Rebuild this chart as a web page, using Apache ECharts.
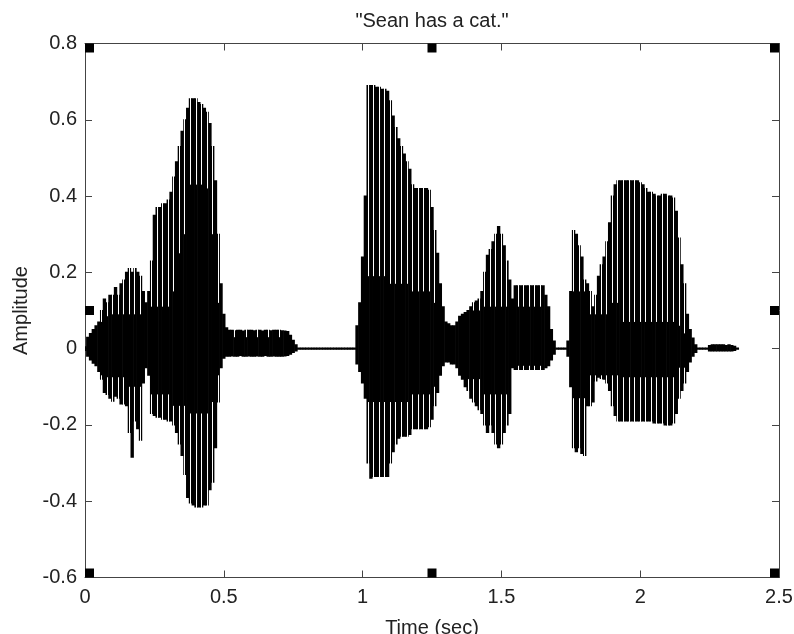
<!DOCTYPE html>
<html>
<head>
<meta charset="utf-8">
<script src="https://cdn.jsdelivr.net/npm/echarts@6/dist/echarts.min.js"></script>
<style>html,body{margin:0;padding:0;background:#fff}#c{width:794px;height:634px}</style>
</head>
<body>
<div id="c"></div>
<script>
const titleText = '"Sean has a cat."';
const xName = 'Time (sec)';
const yName = 'Amplitude';
const xMin = 0, xMax = 2.5, xStep = 0.5;
const yMin = -0.6, yMax = 0.8, yStep = 0.2;
const t0 = 0, dt = 0.01;

// outer envelope of the waveform, one value per 10 ms (0.00 .. 2.35 s)
const upperEnv = [
  0.005, 0.03, 0.04, 0.05, 0.06, 0.07, 0.10, 0.13, 0.12, 0.14,
  0.14, 0.16, 0.14, 0.17, 0.18, 0.20, 0.21, 0.20, 0.21, 0.20,
  0.19, 0.15, 0.12, 0.15, 0.23, 0.35, 0.37, 0.37, 0.38, 0.38,
  0.39, 0.41, 0.45, 0.49, 0.53, 0.57, 0.60, 0.63, 0.655, 0.655,
  0.655, 0.645, 0.64, 0.63, 0.62, 0.59, 0.53, 0.44, 0.30, 0.17,
  0.09, 0.055, 0.048, 0.048, 0.047, 0.048, 0.048, 0.046, 0.048, 0.048,
  0.048, 0.047, 0.048, 0.048, 0.046, 0.048, 0.048, 0.047, 0.048, 0.048,
  0.048, 0.047, 0.046, 0.045, 0.035, 0.022, 0.01, 0.0015, 0.0015, 0.0015,
  0.0015, 0.0015, 0.0015, 0.0015, 0.0015, 0.0015, 0.0015, 0.0015, 0.0015, 0.0015,
  0.0015, 0.0015, 0.0015, 0.0015, 0.0015, 0.0015, 0.0015, 0.0015, 0.06, 0.12,
  0.24, 0.40, 0.69, 0.69, 0.69, 0.685, 0.685, 0.68, 0.68, 0.675,
  0.65, 0.61, 0.58, 0.55, 0.53, 0.51, 0.49, 0.47, 0.43, 0.42,
  0.42, 0.42, 0.42, 0.42, 0.415, 0.37, 0.31, 0.25, 0.17, 0.11,
  0.07, 0.065, 0.06, 0.06, 0.07, 0.085, 0.09, 0.095, 0.10, 0.11,
  0.12, 0.125, 0.13, 0.15, 0.20, 0.245, 0.26, 0.28, 0.30, 0.32,
  0.30, 0.27, 0.23, 0.18, 0.13, 0.165, 0.165, 0.165, 0.165, 0.165,
  0.165, 0.165, 0.165, 0.165, 0.165, 0.165, 0.14, 0.11, 0.05, 0.02,
  0.0015, 0.0015, 0.0015, 0.0015, 0.02, 0.15, 0.31, 0.30, 0.27, 0.24,
  0.18, 0.17, 0.15, 0.11, 0.14, 0.19, 0.22, 0.24, 0.28, 0.33,
  0.40, 0.43, 0.44, 0.44, 0.44, 0.44, 0.44, 0.44, 0.44, 0.44,
  0.435, 0.43, 0.42, 0.41, 0.41, 0.405, 0.40, 0.40, 0.405, 0.405,
  0.40, 0.40, 0.395, 0.36, 0.29, 0.22, 0.17, 0.09, 0.05, 0.028,
  0.01, 0.0015, 0.0015, 0.0015, 0.0015, 0.008, 0.01, 0.01, 0.01, 0.01,
  0.01, 0.008, 0.01, 0.008, 0.006, 0.0015
];
const lowerEnv = [
  -0.005, -0.02, -0.03, -0.038, -0.045, -0.06, -0.08, -0.115, -0.12, -0.13,
  -0.138, -0.125, -0.13, -0.145, -0.145, -0.15, -0.22, -0.285, -0.19, -0.21,
  -0.24, -0.09, -0.05, -0.07, -0.17, -0.175, -0.18, -0.18, -0.185, -0.185,
  -0.19, -0.19, -0.20, -0.22, -0.25, -0.28, -0.33, -0.39, -0.405, -0.41,
  -0.415, -0.415, -0.415, -0.41, -0.41, -0.37, -0.35, -0.26, -0.14, -0.05,
  -0.025, -0.02, -0.02, -0.019, -0.02, -0.02, -0.018, -0.02, -0.02, -0.019,
  -0.02, -0.02, -0.019, -0.02, -0.02, -0.018, -0.02, -0.02, -0.019, -0.02,
  -0.02, -0.02, -0.019, -0.018, -0.015, -0.01, -0.006, -0.0015, -0.0015, -0.0015,
  -0.0015, -0.0015, -0.0015, -0.0015, -0.0015, -0.0015, -0.0015, -0.0015, -0.0015, -0.0015,
  -0.0015, -0.0015, -0.0015, -0.0015, -0.0015, -0.0015, -0.0015, -0.0015, -0.04, -0.06,
  -0.09, -0.13, -0.30, -0.34, -0.335, -0.335, -0.335, -0.335, -0.335, -0.335,
  -0.30, -0.27, -0.25, -0.235, -0.23, -0.23, -0.23, -0.225, -0.21, -0.21,
  -0.21, -0.21, -0.21, -0.21, -0.205, -0.185, -0.15, -0.115, -0.07, -0.045,
  -0.035, -0.035, -0.04, -0.04, -0.05, -0.07, -0.08, -0.10, -0.11, -0.13,
  -0.14, -0.15, -0.16, -0.17, -0.20, -0.22, -0.20, -0.22, -0.25, -0.26,
  -0.25, -0.22, -0.20, -0.17, -0.05, -0.055, -0.055, -0.055, -0.055, -0.055,
  -0.055, -0.055, -0.055, -0.055, -0.055, -0.055, -0.05, -0.045, -0.03, -0.015,
  -0.0015, -0.0015, -0.0015, -0.0015, -0.02, -0.10, -0.26, -0.27, -0.26, -0.275,
  -0.28, -0.15, -0.15, -0.14, -0.085, -0.075, -0.078, -0.08, -0.09, -0.11,
  -0.15, -0.175, -0.19, -0.19, -0.19, -0.19, -0.19, -0.19, -0.19, -0.19,
  -0.19, -0.19, -0.19, -0.19, -0.19, -0.195, -0.195, -0.195, -0.195, -0.20,
  -0.20, -0.20, -0.195, -0.17, -0.13, -0.11, -0.09, -0.06, -0.035, -0.02,
  -0.01, -0.0015, -0.0015, -0.0015, -0.0015, -0.006, -0.006, -0.006, -0.006, -0.006,
  -0.006, -0.006, -0.006, -0.006, -0.005, -0.0015
];
// dense inner core (where the white gaps between pitch pulses stop); null = no gap
const coreUpper = [
  null, null, null, null, null, null, 0.07, 0.08, 0.085, 0.09,
  0.09, 0.09, 0.09, 0.09, 0.09, 0.09, 0.09, 0.09, 0.09, 0.09,
  0.09, null, null, null, 0.11, 0.11, 0.11, 0.11, 0.11, 0.11,
  0.11, 0.12, 0.15, 0.20, 0.25, 0.28, 0.30, 0.42, 0.43, 0.43,
  0.43, 0.43, 0.43, 0.42, 0.42, 0.38, 0.30, 0.20, 0.12, null,
  null, null, null, null, 0.03, null, null, null, 0.03, null,
  null, null, 0.03, null, null, null, 0.03, null, null, null,
  0.03, null, null, null, null, null, null, null, null, null,
  null, null, null, null, null, null, null, null, null, null,
  null, null, null, null, null, null, null, null, null, null,
  null, null, 0.19, 0.19, 0.19, 0.19, 0.19, 0.19, 0.19, 0.19,
  0.17, 0.17, 0.17, 0.17, 0.17, 0.17, 0.17, 0.17, 0.15, 0.15,
  0.15, 0.15, 0.15, 0.15, 0.15, 0.13, 0.12, null, null, null,
  null, null, null, null, null, null, null, null, null, null,
  0.10, 0.10, 0.10, 0.10, 0.11, 0.11, 0.11, 0.11, 0.11, 0.11,
  0.11, 0.11, 0.11, 0.11, null, 0.11, 0.11, 0.11, 0.11, 0.11,
  0.11, 0.11, 0.11, 0.11, 0.11, 0.11, null, null, null, null,
  null, null, null, null, null, null, 0.15, 0.15, 0.15, 0.15,
  0.15, 0.09, 0.09, 0.09, 0.09, 0.09, 0.09, 0.09, 0.09, 0.12,
  0.12, 0.12, 0.12, 0.07, 0.07, 0.07, 0.07, 0.07, 0.07, 0.07,
  0.07, 0.07, 0.07, 0.07, 0.07, 0.07, 0.07, 0.07, 0.07, 0.07,
  0.07, 0.07, 0.07, 0.07, 0.06, 0.05, 0.04, null, null, null,
  null, null, null, null, null, null, null, null, null, null,
  null, null, null, null, null, null
];
const coreLower = [
  null, null, null, null, null, null, -0.07, -0.075, -0.075, -0.075,
  -0.075, -0.075, -0.075, -0.075, -0.075, -0.075, -0.10, -0.10, -0.10, -0.10,
  -0.10, null, null, null, -0.12, -0.12, -0.12, -0.12, -0.12, -0.12,
  -0.12, -0.15, -0.15, -0.15, -0.15, -0.15, -0.15, -0.17, -0.17, -0.17,
  -0.17, -0.17, -0.17, -0.17, -0.17, -0.16, -0.14, -0.10, -0.07, null,
  null, null, null, null, null, null, null, null, null, null,
  null, null, null, null, null, null, null, null, null, null,
  null, null, null, null, null, null, null, null, null, null,
  null, null, null, null, null, null, null, null, null, null,
  null, null, null, null, null, null, null, null, null, null,
  null, null, -0.14, -0.14, -0.14, -0.14, -0.14, -0.14, -0.14, -0.14,
  -0.14, -0.14, -0.14, -0.14, -0.14, -0.14, -0.14, -0.14, -0.12, -0.12,
  -0.12, -0.12, -0.12, -0.12, -0.12, -0.10, -0.10, null, null, null,
  null, null, null, null, null, null, null, -0.08, -0.08, -0.08,
  -0.08, -0.08, -0.08, -0.08, -0.12, -0.12, -0.12, -0.12, -0.12, -0.12,
  -0.12, -0.12, -0.12, -0.12, null, -0.045, -0.045, -0.045, -0.045, -0.045,
  -0.045, -0.045, -0.045, -0.045, -0.045, -0.045, null, null, null, null,
  null, null, null, null, null, null, -0.13, -0.13, -0.13, -0.13,
  -0.13, -0.07, -0.07, -0.07, -0.07, -0.07, -0.07, -0.07, -0.07, -0.07,
  -0.07, -0.07, -0.07, -0.075, -0.075, -0.075, -0.075, -0.075, -0.075, -0.075,
  -0.075, -0.075, -0.075, -0.075, -0.075, -0.075, -0.075, -0.075, -0.075, -0.075,
  -0.075, -0.075, -0.075, -0.075, -0.05, -0.05, -0.05, null, null, null,
  null, null, null, null, null, null, null, null, null, null,
  null, null, null, null, null, null
];
// MATLAB selection handles: corners and edge midpoints of the axes box
const handlePoints = [
  [xMin, yMax], [(xMin + xMax) / 2, yMax], [xMax, yMax],
  [xMin, (yMin + yMax) / 2], [xMax, (yMin + yMax) / 2],
  [xMin, yMin], [(xMin + xMax) / 2, yMin], [xMax, yMin]
];
const handleOffsets = [[4.5,4.5],[0,4.5],[-4.5,4.5],[4.5,0],[-4.5,0],[4.5,-4.5],[0,-4.5],[-4.5,-4.5]];

const times = upperEnv.map((_, i) => +(t0 + i * dt).toFixed(2));
const waveData = times.map((t, i) => [t, upperEnv[i], lowerEnv[i]]);
const gapData = [];
times.forEach((t, i) => {
  if (i % 2 !== 0) return;
  const cu = coreUpper[i], cl = coreLower[i];
  if (cu == null && cl == null) return;
  gapData.push([t, upperEnv[i], cu == null ? upperEnv[i] : cu, lowerEnv[i], cl == null ? lowerEnv[i] : cl]);
});

const font = '"Liberation Sans", Arial, Helvetica, sans-serif';
const textColor = '#222';
const axisColor = '#444';

function axisCommon(extra) {
  return Object.assign({
    type: 'value',
    axisLine: { show: true, onZero: false, lineStyle: { color: axisColor, width: 1 } },
    axisTick: { show: true, inside: true, length: 7, lineStyle: { color: axisColor, width: 1 } },
    splitLine: { show: false },
    axisLabel: { show: false }
  }, extra);
}

const chart = echarts.init(document.getElementById('c'), null, { renderer: 'canvas' });
chart.setOption({
  animation: false,
  backgroundColor: '#fff',
  title: {
    text: titleText, left: 432, top: 11, textAlign: 'center', padding: 0,
    textStyle: { fontFamily: font, fontSize: 20, fontWeight: 'normal', color: textColor }
  },
  grid: { left: 85, right: 15, top: 43.5, bottom: 56.5, containLabel: false, outerBoundsMode: 'none' },
  xAxis: [
    axisCommon({
      min: xMin, max: xMax, interval: xStep, position: 'bottom',
      name: xName, nameLocation: 'middle', nameGap: 41,
      nameTextStyle: { fontFamily: font, fontSize: 20, color: textColor },
      axisLabel: { show: true, margin: 10, fontFamily: font, fontSize: 20, color: textColor }
    }),
    axisCommon({ min: xMin, max: xMax, interval: xStep, position: 'top' })
  ],
  yAxis: [
    axisCommon({
      min: yMin, max: yMax, interval: yStep, position: 'left',
      name: yName, nameLocation: 'middle', nameGap: 46,
      nameTextStyle: { fontFamily: font, fontSize: 20, color: textColor },
      axisLabel: { show: true, margin: 8, fontFamily: font, fontSize: 20, color: textColor }
    }),
    axisCommon({ min: yMin, max: yMax, interval: yStep, position: 'right' })
  ],
  series: [
    {
      type: 'custom', name: 'waveform', clip: true, z: 2,
      data: waveData, encode: { x: 0, y: [1, 2] },
      renderItem: function (params, api) {
        const t = api.value(0);
        const p1 = api.coord([t - dt / 2, api.value(1)]);
        const p2 = api.coord([t + dt / 2, api.value(2)]);
        return {
          type: 'rect',
          shape: { x: p1[0] - 0.3, y: p1[1] - 0.5, width: p2[0] - p1[0] + 0.6, height: p2[1] - p1[1] + 1 },
          style: { fill: '#000' }
        };
      }
    },
    {
      type: 'custom', name: 'pulseGaps', clip: true, z: 3,
      data: gapData, encode: { x: 0, y: [1, 3] },
      renderItem: function (params, api) {
        const t = api.value(0);
        const xc = api.coord([t, 0])[0];
        const x = Math.round(xc - 0.5) + 0.5;
        const hi = api.value(1), cu = api.value(2), lo = api.value(3), cl = api.value(4);
        const kids = [];
        if (hi - cu > 0.004) {
          kids.push({ type: 'line', shape: { x1: x, y1: api.coord([t, hi])[1] - 2, x2: x, y2: api.coord([t, cu])[1] },
            style: { stroke: '#fff', lineWidth: 1 } });
        }
        if (cl - lo > 0.004) {
          kids.push({ type: 'line', shape: { x1: x, y1: api.coord([t, cl])[1], x2: x, y2: api.coord([t, lo])[1] + 2 },
            style: { stroke: '#fff', lineWidth: 1 } });
        }
        return { type: 'group', children: kids };
      }
    },
    {
      type: 'scatter', name: 'handles', clip: false, z: 5,
      symbol: 'rect', symbolSize: 9,
      itemStyle: { color: '#000', opacity: 1 },
      data: handlePoints.map((p, i) => ({ value: p, symbolOffset: handleOffsets[i] }))
    }
  ]
});
</script>
</body>
</html>
